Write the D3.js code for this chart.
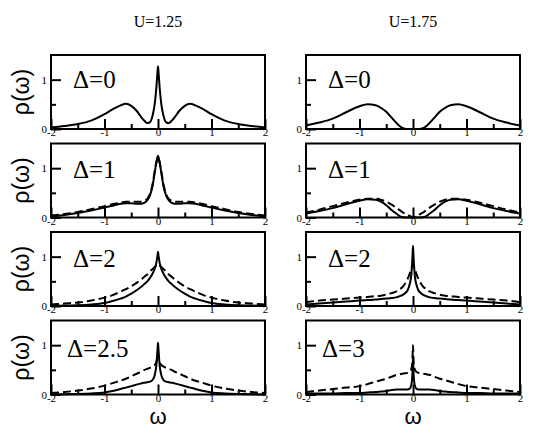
<!DOCTYPE html>
<html>
<head>
<meta charset="utf-8">
<script src="https://cdn.jsdelivr.net/npm/d3@7"></script>
<style>
  body { margin: 0; background: #fff; }
  svg { display: block; }
  .serif { font-family: "Liberation Serif", "DejaVu Serif", serif; }
  .sans { font-family: "Liberation Sans", "DejaVu Sans", sans-serif; }
</style>
</head>
<body>
<div id="chart"></div>
<script>
// omega grid shared by every curve
const omega = [-2, -1.75, -1.5, -1.25, -1, -0.85, -0.7, -0.6, -0.5, -0.4, -0.3, -0.25, -0.2, -0.15, -0.1, -0.06, -0.03, -0.01, 0,
  0.01, 0.03, 0.06, 0.1, 0.15, 0.2, 0.25, 0.3, 0.4, 0.5, 0.6, 0.7, 0.85, 1, 1.25, 1.5, 1.75, 2];

// U=1.25
const rhoL1 = [0.03, 0.06, 0.10, 0.17, 0.30, 0.40, 0.48, 0.51, 0.47, 0.37, 0.22, 0.16, 0.12, 0.14, 0.28, 0.52, 0.85, 1.15, 1.27,
  1.15, 0.85, 0.52, 0.28, 0.14, 0.12, 0.16, 0.22, 0.37, 0.47, 0.51, 0.48, 0.40, 0.30, 0.17, 0.10, 0.06, 0.03];
const rhoL2 = [0.02, 0.05, 0.09, 0.14, 0.20, 0.24, 0.28, 0.29, 0.29, 0.28, 0.28, 0.30, 0.35, 0.45, 0.65, 0.92, 1.12, 1.22, 1.25,
  1.22, 1.12, 0.92, 0.65, 0.45, 0.35, 0.30, 0.28, 0.28, 0.29, 0.29, 0.28, 0.24, 0.20, 0.14, 0.09, 0.05, 0.02];
const rhoL2d = [0.04, 0.07, 0.11, 0.17, 0.23, 0.27, 0.30, 0.32, 0.32, 0.32, 0.32, 0.34, 0.38, 0.48, 0.68, 0.95, 1.12, 1.20, 1.22,
  1.20, 1.12, 0.95, 0.68, 0.48, 0.38, 0.34, 0.32, 0.32, 0.32, 0.32, 0.30, 0.27, 0.23, 0.17, 0.11, 0.07, 0.04];
const rhoL3 = [0.00, 0.01, 0.015, 0.03, 0.06, 0.10, 0.15, 0.19, 0.25, 0.32, 0.40, 0.45, 0.50, 0.57, 0.66, 0.76, 0.88, 1.02, 1.10,
  1.02, 0.88, 0.76, 0.66, 0.57, 0.50, 0.45, 0.40, 0.32, 0.25, 0.19, 0.15, 0.10, 0.06, 0.03, 0.015, 0.01, 0.00];
const rhoL3d = [0.03, 0.05, 0.07, 0.11, 0.17, 0.22, 0.29, 0.34, 0.40, 0.47, 0.55, 0.60, 0.64, 0.70, 0.75, 0.79, 0.82, 0.84, 0.85,
  0.84, 0.82, 0.79, 0.75, 0.70, 0.64, 0.60, 0.55, 0.47, 0.40, 0.34, 0.29, 0.22, 0.17, 0.11, 0.07, 0.05, 0.03];
const rhoL4 = [0.00, 0.005, 0.01, 0.02, 0.04, 0.07, 0.11, 0.14, 0.17, 0.20, 0.23, 0.24, 0.25, 0.26, 0.30, 0.40, 0.60, 0.90, 1.05,
  0.90, 0.60, 0.40, 0.30, 0.26, 0.25, 0.24, 0.23, 0.20, 0.17, 0.14, 0.11, 0.07, 0.04, 0.02, 0.01, 0.005, 0.00];
const rhoL4d = [0.03, 0.05, 0.08, 0.12, 0.18, 0.23, 0.28, 0.32, 0.37, 0.42, 0.47, 0.50, 0.52, 0.54, 0.57, 0.60, 0.66, 0.78, 0.85,
  0.78, 0.66, 0.60, 0.57, 0.54, 0.52, 0.50, 0.47, 0.42, 0.37, 0.32, 0.28, 0.23, 0.18, 0.12, 0.08, 0.05, 0.03];

// U=1.75
const rhoR1 = [0.07, 0.13, 0.21, 0.34, 0.46, 0.50, 0.48, 0.43, 0.35, 0.23, 0.11, 0.06, 0.02, 0.005, 0, 0, 0, 0, 0,
  0, 0, 0, 0, 0.005, 0.02, 0.06, 0.11, 0.23, 0.35, 0.43, 0.48, 0.50, 0.46, 0.34, 0.21, 0.13, 0.07];
const rhoR2 = [0.08, 0.13, 0.19, 0.27, 0.34, 0.37, 0.36, 0.32, 0.25, 0.15, 0.07, 0.03, 0.01, 0, 0, 0, 0, 0, 0,
  0, 0, 0, 0, 0, 0.01, 0.03, 0.07, 0.15, 0.25, 0.32, 0.36, 0.37, 0.34, 0.27, 0.19, 0.13, 0.08];
const rhoR2d = [0.10, 0.16, 0.23, 0.30, 0.36, 0.38, 0.38, 0.36, 0.32, 0.26, 0.19, 0.15, 0.11, 0.08, 0.05, 0.03, 0.015, 0.005, 0,
  0.005, 0.015, 0.03, 0.05, 0.08, 0.11, 0.15, 0.19, 0.26, 0.32, 0.36, 0.38, 0.38, 0.36, 0.30, 0.23, 0.16, 0.10];
const rhoR3 = [0.03, 0.05, 0.07, 0.09, 0.11, 0.12, 0.13, 0.14, 0.15, 0.16, 0.18, 0.20, 0.22, 0.26, 0.32, 0.45, 0.65, 1.00, 1.22,
  1.00, 0.65, 0.45, 0.32, 0.26, 0.22, 0.20, 0.18, 0.16, 0.15, 0.14, 0.13, 0.12, 0.11, 0.09, 0.07, 0.05, 0.03];
const rhoR3d = [0.08, 0.11, 0.13, 0.15, 0.17, 0.18, 0.20, 0.21, 0.23, 0.26, 0.30, 0.34, 0.38, 0.45, 0.55, 0.66, 0.76, 0.83, 0.85,
  0.83, 0.76, 0.66, 0.55, 0.45, 0.38, 0.34, 0.30, 0.26, 0.23, 0.21, 0.20, 0.18, 0.17, 0.15, 0.13, 0.11, 0.08];
const rhoR4 = [0.02, 0.02, 0.02, 0.03, 0.03, 0.04, 0.05, 0.06, 0.07, 0.09, 0.10, 0.10, 0.10, 0.10, 0.10, 0.12, 0.20, 0.45, 0.75,
  0.45, 0.20, 0.12, 0.10, 0.10, 0.10, 0.10, 0.10, 0.09, 0.07, 0.06, 0.05, 0.04, 0.03, 0.03, 0.02, 0.02, 0.02];
const rhoR4d = [0.05, 0.08, 0.11, 0.14, 0.17, 0.21, 0.26, 0.29, 0.32, 0.36, 0.40, 0.41, 0.42, 0.43, 0.44, 0.46, 0.52, 0.70, 1.00,
  0.70, 0.52, 0.46, 0.44, 0.43, 0.42, 0.41, 0.40, 0.36, 0.32, 0.29, 0.26, 0.21, 0.17, 0.14, 0.11, 0.08, 0.05];

const columnTitles = ['U=1.25', 'U=1.75'];
const deltaLeft = ['\u0394=0', '\u0394=1', '\u0394=2', '\u0394=2.5'];
const deltaRight = ['\u0394=0', '\u0394=1', '\u0394=2', '\u0394=3'];
const xTicks = [-2, -1, 0, 1, 2];
const xMinor = [-1.5, -0.5, 0.5, 1.5];
const yTicks = [0, 1];
const yMinor = [0.5];

const panels = [
  { col: 0, row: 0, label: deltaLeft[0], solid: rhoL1, dashed: null },
  { col: 0, row: 1, label: deltaLeft[1], solid: rhoL2, dashed: rhoL2d },
  { col: 0, row: 2, label: deltaLeft[2], solid: rhoL3, dashed: rhoL3d },
  { col: 0, row: 3, label: deltaLeft[3], solid: rhoL4, dashed: rhoL4d },
  { col: 1, row: 0, label: deltaRight[0], solid: rhoR1, dashed: null },
  { col: 1, row: 1, label: deltaRight[1], solid: rhoR2, dashed: rhoR2d },
  { col: 1, row: 2, label: deltaRight[2], solid: rhoR3, dashed: rhoR3d },
  { col: 1, row: 3, label: deltaRight[3], solid: rhoR4, dashed: rhoR4d }
];

const W = 538, H = 428;
const colLeft = [51, 306];
const rowTop = [55, 143.5, 232, 320.5];
const pw = 214, ph = 74;

const svg = d3.select('#chart').append('svg')
  .attr('width', W)
  .attr('height', H);

const x = d3.scaleLinear().domain([-2, 2]).range([0, pw]);
const y = d3.scaleLinear().domain([0, 1.5]).range([ph, 0]);

const line = d3.line()
  .x((d, i) => x(omega[i]))
  .y(d => y(d))
  .curve(d3.curveMonotoneX);

// column titles
columnTitles.forEach((t, i) => {
  svg.append('text')
    .attr('class', 'serif')
    .attr('x', colLeft[i] + pw / 2)
    .attr('y', 27)
    .attr('text-anchor', 'middle')
    .attr('font-size', 16)
    .text(t);
});

panels.forEach(p => {
  const g = svg.append('g')
    .attr('transform', `translate(${colLeft[p.col]},${rowTop[p.row]})`);

  // curves
  if (p.dashed) {
    g.append('path')
      .attr('d', line(p.dashed))
      .attr('fill', 'none')
      .attr('stroke', '#000')
      .attr('stroke-width', 2)
      .attr('stroke-dasharray', '8,4');
  }
  g.append('path')
    .attr('d', line(p.solid))
    .attr('fill', 'none')
    .attr('stroke', '#000')
    .attr('stroke-width', 2);

  // bottom axis, ticks pointing in
  const xAx = g.append('g').attr('transform', `translate(0,${ph})`)
    .call(d3.axisBottom(x).tickValues(xTicks).tickSize(-10).tickPadding(1)
      .tickFormat(d => d < 0 ? '-' + Math.abs(d) : String(d)));
  xAx.attr('font-family', null).attr('font-size', 11).attr('class', 'serif');
  xAx.selectAll('text').attr('dy', '0.55em');
  const xMin = g.append('g').attr('transform', `translate(0,${ph})`)
    .call(d3.axisBottom(x).tickValues(xMinor).tickSize(-5).tickFormat(() => ''));
  [xAx, xMin].forEach(a => {
    a.selectAll('.domain').remove();
    a.selectAll('line').attr('stroke-width', 2);
  });

  // left axis, ticks pointing in
  const yAx = g.append('g')
    .call(d3.axisLeft(y).tickValues(yTicks).tickSize(-10).tickPadding(4).tickFormat(d3.format('d')));
  yAx.attr('font-family', null).attr('font-size', 11).attr('class', 'serif');
  const yMin = g.append('g')
    .call(d3.axisLeft(y).tickValues(yMinor).tickSize(-5).tickFormat(() => ''));
  [yAx, yMin].forEach(a => {
    a.selectAll('.domain').remove();
    a.selectAll('line').attr('stroke-width', 2);
  });

  // frame
  g.append('rect')
    .attr('width', pw)
    .attr('height', ph)
    .attr('fill', 'none')
    .attr('stroke', '#000')
    .attr('stroke-width', 2);

  // delta label
  g.append('text')
    .attr('class', 'serif')
    .attr('x', p.row === 3 ? 16 : 22)
    .attr('y', 33 + p.row)
    .attr('font-size', 25)
    .text(p.label);

  // y label on left column
  if (p.col === 0) {
    svg.append('text')
      .attr('class', 'sans')
      .attr('transform', `translate(29,${rowTop[p.row] + ph / 2}) rotate(-90)`)
      .attr('text-anchor', 'middle')
      .attr('font-size', 23)
      .text('\u03c1(\u03c9)');
  }
  // x label under bottom row
  if (p.row === 3) {
    svg.append('text')
      .attr('class', 'sans')
      .attr('x', colLeft[p.col] + pw / 2)
      .attr('y', 424)
      .attr('text-anchor', 'middle')
      .attr('font-size', 22)
      .text('\u03c9');
  }
});
</script>
</body>
</html>
